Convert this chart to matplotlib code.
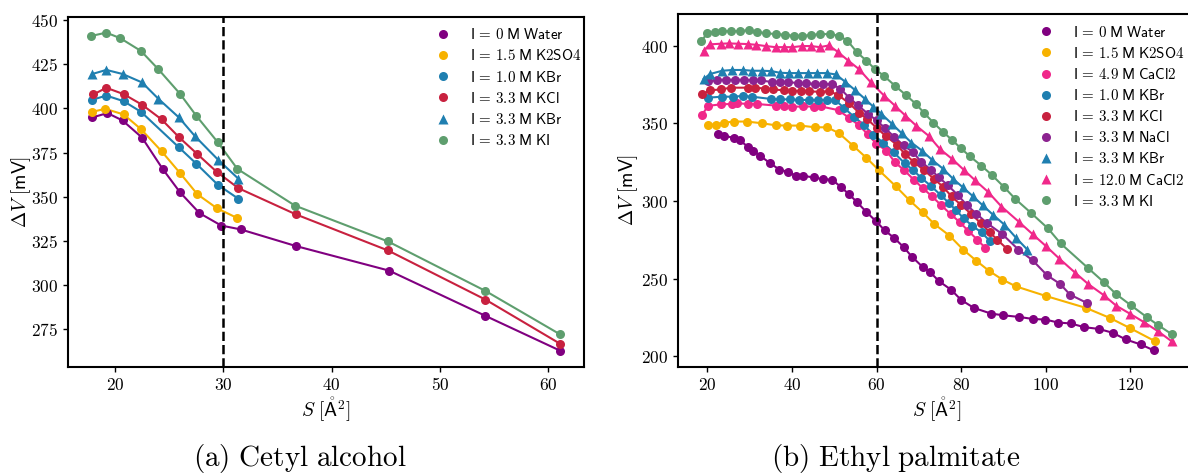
import matplotlib
matplotlib.use("Agg")
import matplotlib.pyplot as plt
from matplotlib.ticker import FuncFormatter

plt.rcParams['mathtext.fontset'] = 'cm'

# colours
c_water = '#800080'
c_k2so4 = '#f7b200'
c_cacl2 = '#f0288a'
c_kbr = '#1f7fb0'
c_kcl = '#c8213f'
c_nacl = '#8c2390'
c_ki = '#5e9e6e'

# (a) cetyl alcohol
cetyl_water_S = [17.9, 19.3, 20.7, 22.5, 24.4, 26.0, 27.8, 29.8, 31.6, 36.7, 45.3, 54.2, 61.1]
cetyl_water_dV = [394.9, 397.4, 393.2, 383.5, 365.8, 352.6, 340.8, 333.8, 331.6, 322.2, 308.3, 282.7, 263.0]
cetyl_k2so4_S = [17.9, 19.1, 20.8, 22.4, 24.3, 26.0, 27.6, 29.4, 31.3]
cetyl_k2so4_dV = [398.1, 399.8, 396.6, 388.3, 375.8, 363.5, 351.5, 343.6, 338.0]
cetyl_kbr1_S = [17.9, 19.2, 20.8, 22.4, 25.9, 27.5, 29.5, 31.4]
cetyl_kbr1_dV = [404.9, 407.3, 404.1, 398.1, 378.0, 368.8, 356.8, 348.9]
cetyl_kcl_S = [18.0, 19.2, 20.8, 22.5, 24.3, 25.9, 27.6, 29.4, 31.4, 36.7, 45.2, 54.2, 61.1]
cetyl_kcl_dV = [407.9, 411.7, 408.1, 402.1, 393.8, 383.8, 374.2, 364.1, 354.9, 340.1, 319.7, 291.9, 266.9]
cetyl_kbr3_S = [17.9, 19.2, 20.7, 22.5, 24.0, 25.9, 27.4, 29.5, 31.4]
cetyl_kbr3_dV = [419.5, 421.8, 419.5, 414.7, 405.5, 394.9, 384.2, 371.1, 360.2]
cetyl_ki_S = [17.8, 19.2, 20.5, 22.4, 24.0, 26.0, 27.5, 29.5, 31.3, 36.6, 45.2, 54.2, 61.1]
cetyl_ki_dV = [441.0, 442.9, 439.7, 432.5, 422.2, 408.3, 395.9, 380.8, 365.8, 345.1, 324.8, 296.8, 272.2]

# (b) ethyl palmitate
ethyl_water_S = [22.6, 24.0, 26.3, 27.7, 29.7, 30.8, 32.5, 34.8, 37.0, 39.0, 40.9, 42.6, 45.1, 47.3, 49.5,
                 51.5, 53.5, 55.3, 57.6, 59.9, 61.9, 64.2, 66.4, 68.3, 70.9, 72.6, 74.8, 77.6, 80.0, 83.0,
                 87.0, 89.8, 93.7, 96.9, 99.9, 102.9, 105.9, 109.1, 112.5, 115.8, 118.9, 122.4, 125.6]
ethyl_water_dV = [343.0, 342.0, 340.7, 339.0, 334.7, 332.5, 329.1, 324.4, 320.3, 318.8, 316.3, 316.3, 315.2, 314.1, 313.7,
                  309.2, 304.3, 299.5, 292.9, 286.9, 281.2, 276.1, 270.3, 264.3, 257.5, 254.3, 248.3, 242.9, 236.3, 231.2,
                  227.6, 226.5, 225.4, 224.1, 223.7, 221.8, 221.2, 218.8, 217.7, 215.2, 210.9, 207.7, 203.8]
ethyl_k2so4_S = [20.2, 22.0, 23.9, 26.4, 29.3, 32.9, 36.1, 38.9, 42.0, 45.4, 48.3, 51.1, 54.4, 57.6, 60.6,
                 64.5, 67.8, 70.9, 73.6, 77.2, 80.5, 83.6, 86.6, 89.7, 92.9, 100.0, 109.5, 115.1, 119.9, 125.8]
ethyl_k2so4_dV = [349.2, 349.2, 350.5, 351.2, 351.2, 350.1, 348.8, 348.6, 348.6, 347.5, 347.5, 343.7, 335.7, 327.8, 319.7,
                  309.6, 300.4, 292.7, 285.3, 277.8, 268.6, 261.5, 255.0, 249.5, 245.1, 238.9, 231.2, 224.8, 218.2, 209.8]
ethyl_cacl2_S = [18.7, 20.2, 23.2, 25.7, 27.0, 29.5, 31.7, 36.1, 38.0, 39.9, 42.6, 45.1, 46.9, 51.0, 53.5,
                 55.8, 57.9, 59.9, 62.3, 64.3, 66.5, 68.8, 71.0, 73.1, 75.3, 77.5, 79.6, 81.7, 83.8, 85.7]
ethyl_cacl2_dV = [355.5, 361.3, 362.3, 362.5, 363.0, 362.5, 362.5, 361.5, 361.3, 360.6, 361.0, 360.8, 360.9, 358.5, 353.5,
                  348.9, 343.0, 337.0, 332.5, 325.0, 319.9, 313.7, 308.1, 303.0, 297.2, 291.6, 286.5, 280.7, 275.1, 269.8]
ethyl_kbr1_S = [20.2, 23.5, 26.1, 28.4, 30.6, 35.1, 37.2, 39.5, 41.7, 43.9, 46.2, 48.3, 50.2, 52.4, 54.6,
                57.0, 59.2, 61.5, 64.0, 66.6, 68.7, 70.6, 72.8, 75.1, 77.1, 78.8, 80.6, 82.6, 84.8, 86.7]
ethyl_kbr1_dV = [366.6, 367.2, 367.2, 367.7, 367.2, 365.7, 365.5, 365.5, 365.1, 365.1, 365.1, 365.1, 365.1, 359.7, 354.4,
                 349.0, 342.7, 337.7, 331.5, 324.4, 319.7, 314.8, 309.8, 304.0, 298.7, 294.0, 288.8, 284.1, 279.8, 274.5]
ethyl_kcl_S = [18.8, 20.6, 23.2, 25.5, 29.5, 31.3, 33.7, 35.5, 38.0, 39.9, 42.2, 43.9, 46.6, 48.7, 50.8,
               53.5, 55.8, 57.8, 60.1, 62.1, 64.8, 66.7, 68.9, 71.1, 73.5, 75.7, 77.7, 80.0, 82.4, 84.6,
               86.8, 88.5, 90.8]
ethyl_kcl_dV = [368.9, 371.3, 371.9, 373.0, 373.0, 373.0, 372.4, 371.9, 371.3, 370.9, 370.9, 370.7, 370.3, 370.7, 368.5,
                363.0, 357.0, 352.7, 346.9, 342.0, 336.2, 330.2, 325.0, 320.1, 314.5, 309.2, 303.0, 297.4, 291.6, 285.8,
                279.8, 275.1, 269.3]
ethyl_nacl_S = [20.2, 22.3, 24.3, 26.5, 28.7, 30.8, 32.7, 35.2, 37.1, 39.1, 41.3, 43.2, 45.4, 47.3, 49.4,
                51.4, 53.5, 55.6, 57.9, 60.0, 62.0, 64.2, 66.4, 68.6, 70.5, 72.8, 74.7, 76.8, 79.2, 81.4,
                83.6, 86.1, 89.7, 93.5, 96.9, 100.3, 103.4, 105.7, 109.7]
ethyl_nacl_dV = [377.1, 378.1, 378.1, 378.1, 378.1, 377.7, 377.7, 376.6, 376.9, 376.6, 376.0, 376.0, 375.4, 375.3, 375.3,
                 372.4, 366.6, 361.6, 356.3, 351.9, 346.9, 341.2, 335.8, 331.5, 325.3, 320.3, 315.2, 310.3, 303.8, 297.2,
                 291.8, 285.8, 278.7, 268.8, 261.8, 252.2, 246.6, 239.8, 234.4]
ethyl_kbr3_S = [19.1, 20.6, 23.5, 25.9, 28.4, 30.6, 32.9, 35.0, 37.2, 39.2, 41.4, 43.7, 45.9, 48.2, 50.4,
                52.6, 55.0, 57.3, 59.2, 61.1, 63.7, 65.9, 68.2, 70.7, 73.1, 75.7, 78.0, 80.4, 82.8, 85.1,
                87.5, 90.2, 93.0, 95.6]
ethyl_kbr3_dV = [378.6, 381.8, 383.9, 384.4, 384.4, 383.9, 383.9, 383.7, 382.6, 382.4, 382.4, 382.4, 382.4, 382.4, 381.5,
                 376.7, 371.2, 365.6, 360.8, 356.2, 349.5, 343.7, 337.7, 332.5, 326.5, 320.8, 314.5, 308.8, 303.0, 297.2,
                 291.2, 284.8, 276.2, 268.8]
ethyl_cacl2hi_S = [19.1, 20.6, 23.1, 25.1, 27.2, 29.5, 31.6, 33.8, 36.1, 38.1, 40.1, 42.4, 44.5, 46.6, 48.7,
                   50.8, 53.3, 55.8, 58.6, 61.8, 64.4, 66.8, 69.4, 72.3, 75.0, 77.9, 80.6, 83.3, 86.3, 89.5,
                   93.6, 96.9, 100.1, 103.2, 107.0, 110.0, 113.7, 116.6, 119.8, 123.1, 126.5, 129.7]
ethyl_cacl2hi_dV = [396.8, 400.9, 401.3, 401.5, 401.3, 401.1, 400.6, 399.8, 399.1, 399.1, 399.1, 399.8, 399.8, 399.1, 400.2,
                    396.1, 390.4, 385.0, 376.5, 367.8, 361.2, 355.0, 348.4, 342.0, 333.4, 327.0, 320.1, 313.3, 306.0, 296.5,
                    286.7, 278.6, 270.8, 262.9, 253.7, 246.6, 239.4, 232.7, 227.6, 222.2, 216.2, 209.8]
ethyl_ki_S = [18.6, 19.9, 21.7, 23.5, 25.6, 27.6, 29.8, 31.8, 33.9, 36.1, 38.4, 40.5, 42.4, 44.5, 46.5,
              48.9, 51.2, 53.1, 55.4, 57.6, 59.6, 61.8, 64.4, 66.9, 69.3, 71.3, 73.4, 75.7, 77.8, 79.9,
              82.1, 84.7, 87.2, 90.2, 92.8, 96.4, 100.5, 103.5, 110.0, 113.7, 116.6, 120.1, 123.8, 126.5, 129.7]
ethyl_ki_dV = [402.8, 408.1, 408.8, 409.4, 409.4, 409.4, 410.1, 408.8, 408.1, 407.5, 407.1, 406.4, 406.4, 406.9, 407.5,
               407.5, 406.4, 403.2, 395.7, 390.3, 385.0, 380.4, 374.1, 368.3, 362.5, 356.5, 350.5, 344.5, 339.4, 334.0,
               328.7, 322.9, 316.9, 308.8, 301.3, 292.6, 282.4, 272.7, 256.8, 247.8, 240.1, 232.9, 225.4, 220.2, 214.4]


def lbl(s):
    return r'$\mathsf{I}\,=\,\mathsf{' + s.replace(' ', r'\;') + '}$'


cetyl_series = [
    (cetyl_water_S, cetyl_water_dV, c_water, 'o', lbl('0 M Water')),
    (cetyl_k2so4_S, cetyl_k2so4_dV, c_k2so4, 'o', lbl('1.5 M K2SO4')),
    (cetyl_kbr1_S, cetyl_kbr1_dV, c_kbr, 'o', lbl('1.0 M KBr')),
    (cetyl_kcl_S, cetyl_kcl_dV, c_kcl, 'o', lbl('3.3 M KCl')),
    (cetyl_kbr3_S, cetyl_kbr3_dV, c_kbr, '^', lbl('3.3 M KBr')),
    (cetyl_ki_S, cetyl_ki_dV, c_ki, 'o', lbl('3.3 M KI')),
]
ethyl_series = [
    (ethyl_water_S, ethyl_water_dV, c_water, 'o', lbl('0 M Water')),
    (ethyl_k2so4_S, ethyl_k2so4_dV, c_k2so4, 'o', lbl('1.5 M K2SO4')),
    (ethyl_cacl2_S, ethyl_cacl2_dV, c_cacl2, 'o', lbl('4.9 M CaCl2')),
    (ethyl_kbr1_S, ethyl_kbr1_dV, c_kbr, 'o', lbl('1.0 M KBr')),
    (ethyl_kcl_S, ethyl_kcl_dV, c_kcl, 'o', lbl('3.3 M KCl')),
    (ethyl_nacl_S, ethyl_nacl_dV, c_nacl, 'o', lbl('3.3 M NaCl')),
    (ethyl_kbr3_S, ethyl_kbr3_dV, c_kbr, '^', lbl('3.3 M KBr')),
    (ethyl_cacl2hi_S, ethyl_cacl2hi_dV, c_cacl2, '^', lbl('12.0 M CaCl2')),
    (ethyl_ki_S, ethyl_ki_dV, c_ki, 'o', lbl('3.3 M KI')),
]

fig = plt.figure(figsize=(11.88, 4.76), dpi=100)
ax1 = fig.add_axes([0.0570, 0.2298, 0.4343, 0.7351])
ax2 = fig.add_axes([0.5707, 0.2300, 0.4352, 0.7405])

tickfmt = FuncFormatter(lambda v, pos: f'${v:g}$')


def draw_panel(ax, series, vline, anchor):
    for S, dV, col, mk, lab in series:
        ax.plot(S, dV, color=col, lw=1.5, zorder=2)
        ax.plot(S, dV, ls='none', marker=mk, ms=6.5 if mk == 'o' else 7, color=col,
                mec='none', label=lab, zorder=3)
    ax.axvline(vline, color='black', ls='--', lw=1.8, zorder=4)
    ax.xaxis.set_major_formatter(tickfmt)
    ax.yaxis.set_major_formatter(tickfmt)
    ax.tick_params(labelsize=12.5, length=3.5, width=1.0)
    for sp in ax.spines.values():
        sp.set_linewidth(1.5)
    ax.set_xlabel(r'$S\ [\mathring{\mathsf{A}}^2]$', fontsize=14, labelpad=1)
    ax.set_ylabel(r'$\Delta V\ [\mathsf{mV}]$', fontsize=14)
    ax.legend(loc='upper right', bbox_to_anchor=anchor, frameon=False, fontsize=10.8,
              handlelength=1.4, handletextpad=1.1, labelspacing=0.41, borderaxespad=0.3)


draw_panel(ax1, cetyl_series, 30, (1.015, 1.0))
ax1.set_yticks([275, 300, 325, 350, 375, 400, 425, 450])
ax1.yaxis.set_label_coords(-0.068, 0.5)
draw_panel(ax2, ethyl_series, 60, (1.0, 1.0))
ax2.set_xticks([20, 40, 60, 80, 100, 120])
ax2.set_yticks([200, 250, 300, 350, 400])
ax2.yaxis.set_label_coords(-0.073, 0.5)

fig.text(0.2525, 0.003, r'$\mathrm{(a)\ Cetyl\ alcohol}$', ha='center', va='bottom', fontsize=21)
fig.text(0.7535, 0.003, r'$\mathrm{(b)\ Ethyl\ palmitate}$', ha='center', va='bottom', fontsize=21)

fig.savefig('out.png', dpi=100)
